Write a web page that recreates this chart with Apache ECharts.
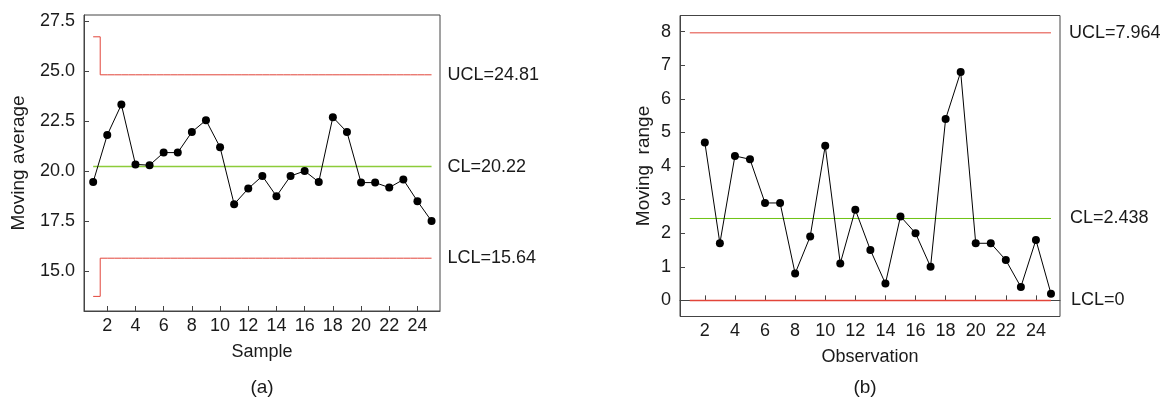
<!DOCTYPE html>
<html>
<head>
<meta charset="utf-8">
<script src="https://cdn.jsdelivr.net/npm/echarts@6/dist/echarts.min.js"></script>
<style>
html,body{margin:0;padding:0;background:#fff;}
#c{width:1172px;height:397px;}
</style>
</head>
<body>
<div id="c"></div>
<script>
// ---- data ----
const samples = [1,2,3,4,5,6,7,8,9,10,11,12,13,14,15,16,17,18,19,20,21,22,23,24,25];
const movingAvg = [19.45,21.8,23.32,20.33,20.29,20.92,20.92,21.95,22.54,21.19,18.34,19.12,19.75,18.74,19.75,20.0,19.45,22.69,21.95,19.42,19.42,19.17,19.57,18.49,17.5];
const uclA = [26.71,24.81,24.81,24.81,24.81,24.81,24.81,24.81,24.81,24.81,24.81,24.81,24.81,24.81,24.81,24.81,24.81,24.81,24.81,24.81,24.81,24.81,24.81,24.81,24.81];
const lclA = [13.73,15.64,15.64,15.64,15.64,15.64,15.64,15.64,15.64,15.64,15.64,15.64,15.64,15.64,15.64,15.64,15.64,15.64,15.64,15.64,15.64,15.64,15.64,15.64,15.64];
const clA = 20.22;
const movingRange = [null,4.7,1.7,4.3,4.2,2.9,2.9,0.8,1.9,4.6,1.1,2.7,1.5,0.5,2.5,2.0,1.0,5.4,6.8,1.7,1.7,1.2,0.4,1.8,0.2];
const uclB = 7.964, clB = 2.438, lclB = 0;
const xTicks = [2,4,6,8,10,12,14,16,18,20,22,24];
const yTicksA = [15,17.5,20,22.5,25,27.5];
const yTicksB = [0,1,2,3,4,5,6,7,8];

const F = '"Liberation Sans", Arial, sans-serif';
const TXT = '#1a1a1a';
const RED = '#e2453a';
const GREEN = '#8dcc3a';
const GREEN_B = '#6cc312';

function pairs(ys){ return samples.map((x,i)=>[x, ys[i]]); }
function constLine(v){ return [[samples[0], v],[samples[samples.length-1], v]]; }

function xAxis(idx, name){
  return {
    type:'value', gridIndex:idx, min:0.35, max:25.6,
    name:name, nameLocation:'middle', nameGap:32,
    nameTextStyle:{fontFamily:F, fontSize:18, color:TXT},
    axisLine:{lineStyle:{color:'#444', width:1}},
    axisTick:{inside:true, length:5, customValues:xTicks, lineStyle:{color:'#444'}},
    axisLabel:{customValues:xTicks, fontFamily:F, fontSize:18, color:TXT, margin:6},
    splitLine:{show:false}
  };
}
function yAxis(idx, name, min, max, ticks, gap, fmt){
  return {
    type:'value', gridIndex:idx, min:min, max:max,
    name:name, nameLocation:'middle', nameGap:gap, nameRotate:90,
    nameTextStyle:{fontFamily:F, fontSize:19, color:TXT},
    axisLine:{lineStyle:{color:'#444', width:1}},
    axisTick:{inside:true, length:5, customValues:ticks, lineStyle:{color:'#444'}},
    axisLabel:{customValues:ticks, fontFamily:F, fontSize:18, color:TXT, margin:9, formatter:fmt},
    splitLine:{show:false}
  };
}
function endLab(text, dist){
  return {show:true, formatter:text, distance:dist, fontFamily:F, fontSize:18, color:TXT};
}

const chart = echarts.init(document.getElementById('c'), null, {renderer:'canvas'});
chart.setOption({
  animation:false,
  backgroundColor:'#fff',
  title:[
    {text:'(a)', left:257, top:373, textAlign:'center', textStyle:{fontFamily:F, fontSize:19, fontWeight:'normal', color:TXT}},
    {text:'(b)', left:860, top:373, textAlign:'center', textStyle:{fontFamily:F, fontSize:19, fontWeight:'normal', color:TXT}}
  ],
  grid:[
    {left:84, top:15, width:356, height:296, show:true, borderColor:'#444', borderWidth:1, backgroundColor:'transparent'},
    {left:680, top:15.5, width:380, height:301, show:true, borderColor:'#444', borderWidth:1, backgroundColor:'transparent'}
  ],
  xAxis:[ xAxis(0,'Sample'), xAxis(1,'Observation') ],
  yAxis:[
    yAxis(0,'Moving average',13,27.8,yTicksA,56,v=>v.toFixed(1)),
    yAxis(1,'Moving  range',-0.48,8.48,yTicksB,27,v=>String(v))
  ],
  series:[
    {type:'line', xAxisIndex:0, yAxisIndex:0, data:pairs(uclA), step:'middle', symbol:'none',
     lineStyle:{color:RED, width:1}, endLabel:endLab('UCL=24.81',16), silent:true},
    {type:'line', xAxisIndex:0, yAxisIndex:0, data:pairs(lclA), step:'middle', symbol:'none',
     lineStyle:{color:RED, width:1}, endLabel:endLab('LCL=15.64',16), silent:true},
    {type:'line', xAxisIndex:0, yAxisIndex:0, data:constLine(clA), symbol:'none',
     lineStyle:{color:GREEN, width:1.5}, endLabel:endLab('CL=20.22',16), silent:true},
    {type:'line', xAxisIndex:0, yAxisIndex:0, data:pairs(movingAvg), symbol:'circle', symbolSize:8,
     itemStyle:{color:'#000'}, lineStyle:{color:'#000', width:1}},

    {type:'line', xAxisIndex:1, yAxisIndex:1, data:constLine(uclB), symbol:'none',
     lineStyle:{color:RED, width:1}, endLabel:endLab('UCL=7.964',18), silent:true},
    {type:'line', xAxisIndex:1, yAxisIndex:1, data:constLine(clB), symbol:'none',
     lineStyle:{color:GREEN_B, width:1}, endLabel:endLab('CL=2.438',19), silent:true},
    {type:'line', xAxisIndex:1, yAxisIndex:1, data:constLine(lclB), symbol:'none',
     lineStyle:{color:RED, width:1.5}, endLabel:endLab('LCL=0',20), silent:true},
    {type:'line', xAxisIndex:1, yAxisIndex:1, data:pairs(movingRange), symbol:'circle', symbolSize:8,
     itemStyle:{color:'#000'}, lineStyle:{color:'#000', width:1}, connectNulls:false}
  ]
});
</script>
</body>
</html>
